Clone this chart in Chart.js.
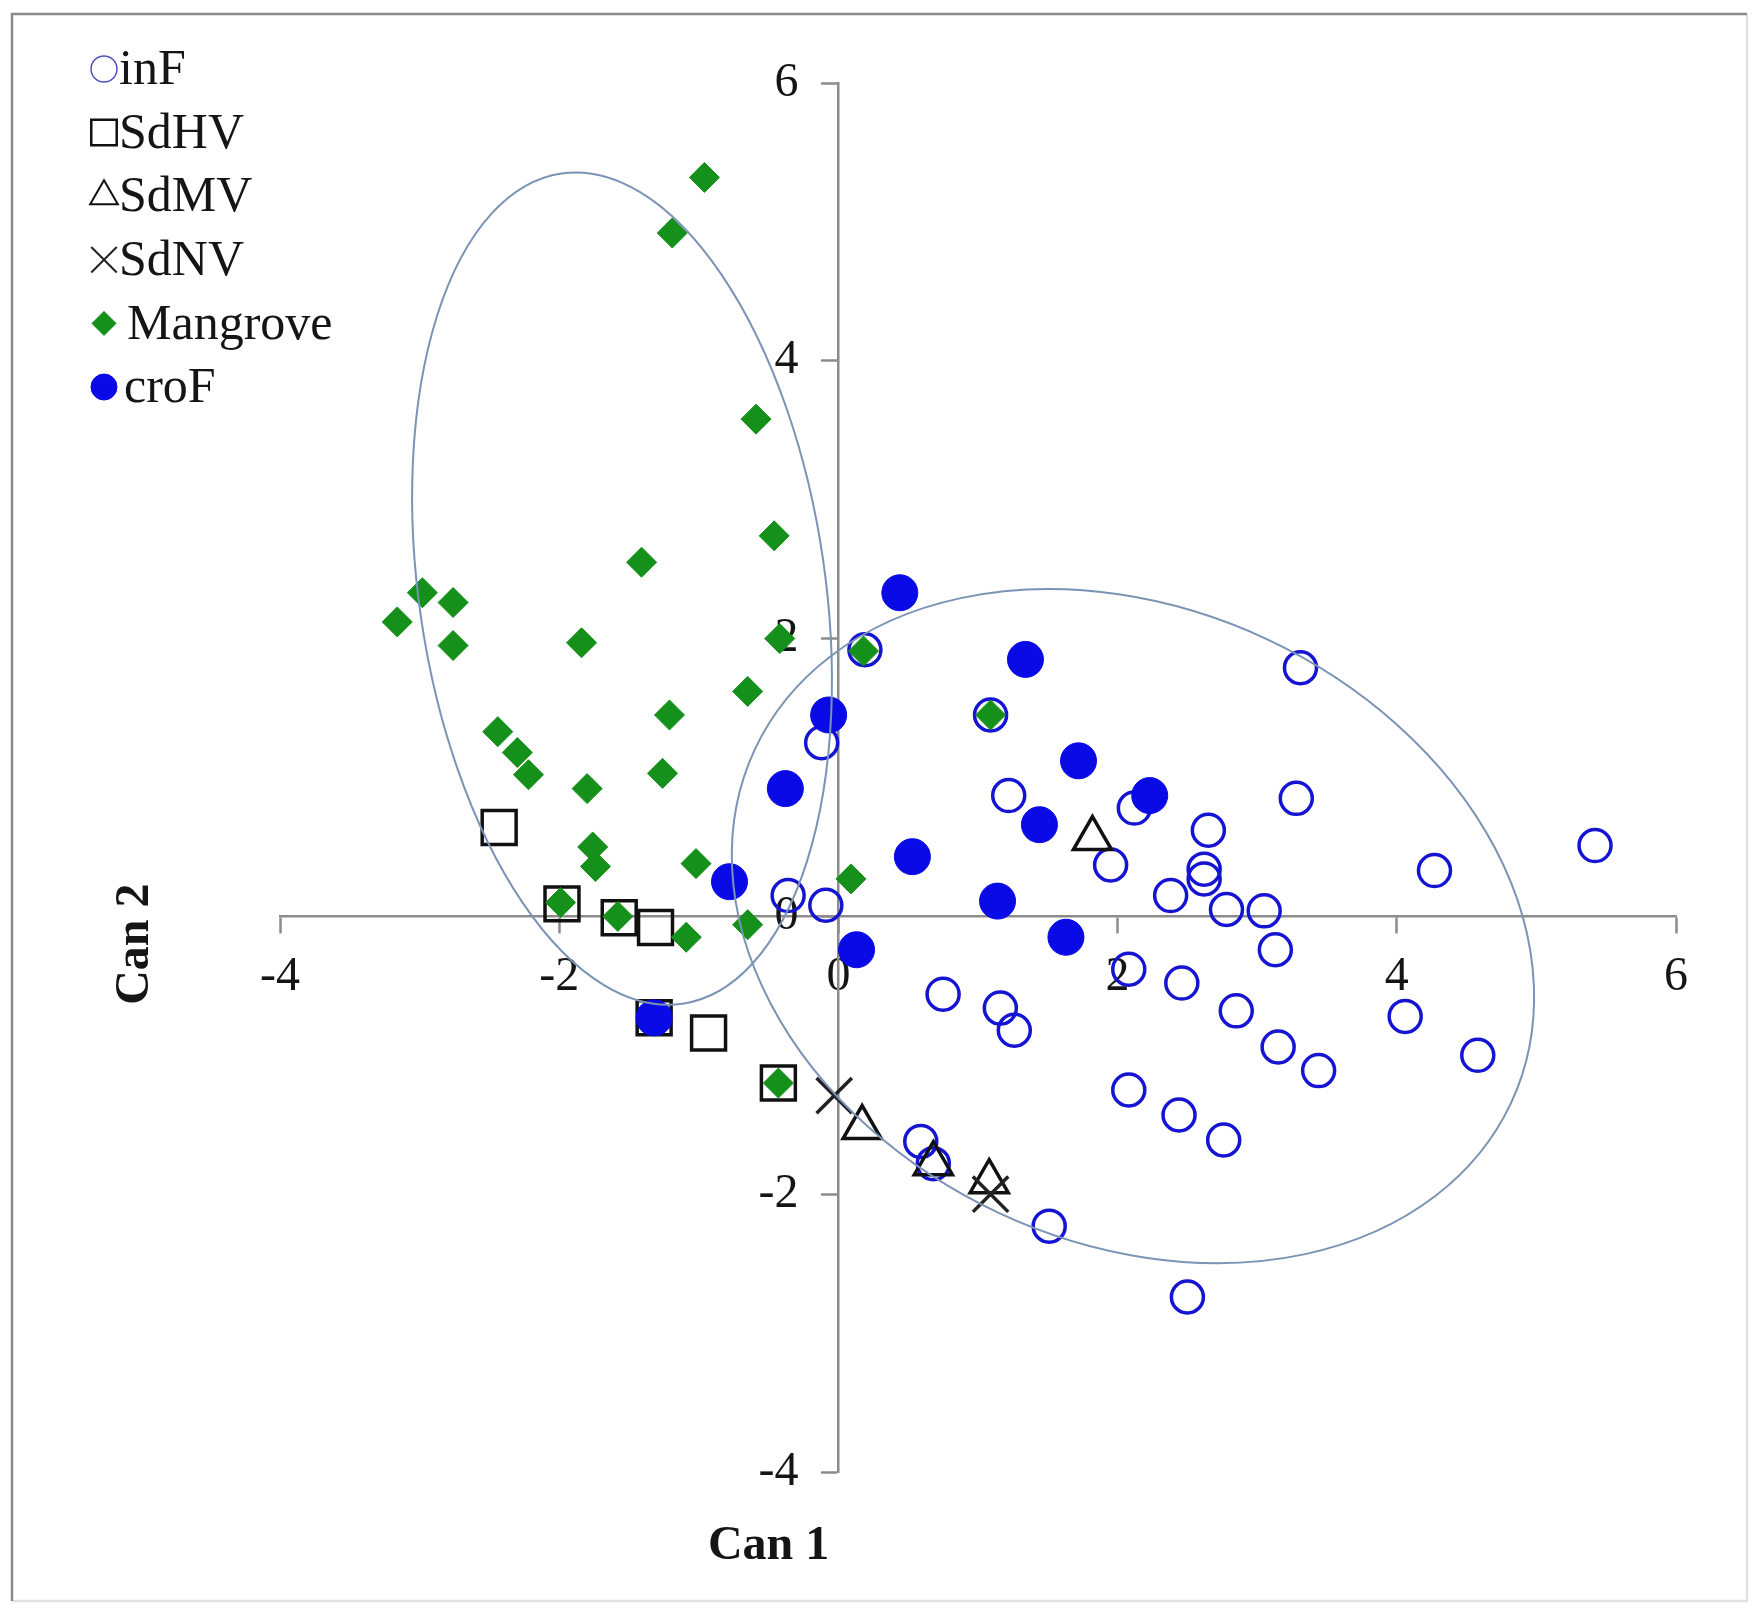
<!DOCTYPE html>
<html>
<head>
<meta charset="utf-8">
<script src="https://cdn.jsdelivr.net/npm/chart.js@4.4.1/dist/chart.umd.min.js"></script>
<style>
  html, body { margin: 0; padding: 0; background: #fff; }
  #wrap { position: relative; width: 1753px; height: 1604px; }
</style>
</head>
<body>
<div id="wrap"><canvas id="canChart" width="1753" height="1604"></canvas></div>
<script>
// Scores per groep (Can 1, Can 2)
const inF = [
  [3.31, 1.79], [0.19, 1.92], [1.09, 1.45], [-0.12, 1.25], [1.22, 0.87], [2.12, 0.78],
  [3.28, 0.85], [2.65, 0.62], [5.42, 0.51], [1.95, 0.37], [2.62, 0.34], [2.62, 0.27],
  [4.27, 0.33], [2.38, 0.15], [2.78, 0.05], [3.05, 0.04], [-0.36, 0.15], [-0.09, 0.08],
  [3.13, -0.24], [2.08, -0.38], [2.46, -0.48], [0.75, -0.56], [1.16, -0.66], [1.26, -0.82],
  [2.85, -0.68], [4.06, -0.72], [3.15, -0.94], [3.44, -1.11], [4.58, -1.0], [2.08, -1.25],
  [2.44, -1.43], [2.76, -1.61], [0.59, -1.62], [0.68, -1.78], [1.51, -2.23], [2.5, -2.74]
];
const SdHV = [[-2.43, 0.64], [-1.98, 0.09], [-1.57, -0.01], [-1.31, -0.08], [-1.32, -0.73], [-0.93, -0.84], [-0.43, -1.2]];
const SdMV = [[1.82, 0.56], [0.17, -1.52], [0.68, -1.78], [1.08, -1.91]];
const SdNV = [[-0.03, -1.29], [1.09, -2.0]];
const Mangrove = [
  [-0.96, 5.32], [-1.19, 4.92], [-0.59, 3.58], [-0.46, 2.74], [-1.41, 2.55], [-2.98, 2.33],
  [-2.76, 2.26], [-3.16, 2.12], [-2.76, 1.95], [-1.84, 1.97], [-0.42, 2.0], [0.18, 1.91],
  [-1.21, 1.45], [-0.65, 1.62], [-2.44, 1.33], [-2.3, 1.18], [-2.22, 1.02], [-1.26, 1.03],
  [-1.8, 0.92], [1.09, 1.45], [-1.76, 0.5], [-1.74, 0.36], [-1.02, 0.38], [0.09, 0.27],
  [-1.99, 0.1], [-1.58, 0.0], [-1.09, -0.15], [-0.65, -0.06], [-0.43, -1.2]
];
const croF = [
  [0.44, 2.33], [1.34, 1.85], [-0.07, 1.45], [1.72, 1.12], [2.23, 0.87], [-0.38, 0.92],
  [1.44, 0.66], [0.53, 0.43], [-0.78, 0.25], [1.14, 0.11], [1.63, -0.15], [0.13, -0.24], [-1.32, -0.73]
];

const tickValues = [-4, -2, 0, 2, 4, 6];

// Ellipsen: middelpunt x, middelpunt y, straal x, straal y, draaiing (graden)
const ellipses = [
  [-1.55, 2.36, 1.455, 3.02, -8.3],
  [2.11, -0.07, 2.99, 2.28, 25.1]
];

const serif = '"Liberation Serif", "Times New Roman", serif';
const axisGray = '#8c8c8c';
const toPts = arr => arr.map(p => ({ x: p[0], y: p[1] }));

const datasets = [
  { label: 'inF', data: toPts(inF), pointStyle: 'circle', pointRadius: 16, borderWidth: 3.5,
    borderColor: '#1414d2', backgroundColor: 'rgba(0,0,0,0)', order: 6, legendRadius: 13, legendBorder: 1.5, legendColor: '#5050c0' },
  { label: 'SdHV', data: toPts(SdHV), pointStyle: 'rect', pointRadius: 24, borderWidth: 3.5,
    borderColor: '#111', backgroundColor: 'rgba(0,0,0,0)', order: 5, legendRadius: 18, legendBorder: 2.5 },
  { label: 'SdMV', data: toPts(SdMV), pointStyle: 'triangle', pointRadius: 22, borderWidth: 3.5,
    borderColor: '#111', backgroundColor: 'rgba(0,0,0,0)', order: 4, legendRadius: 16, legendBorder: 2 },
  { label: 'SdNV', data: toPts(SdNV), pointStyle: 'crossRot', pointRadius: 25, borderWidth: 3.5,
    borderColor: '#222', backgroundColor: 'rgba(0,0,0,0)', order: 3, legendRadius: 18, legendBorder: 2 },
  { label: 'Mangrove', data: toPts(Mangrove), pointStyle: 'rectRot', pointRadius: 15, borderWidth: 1,
    borderColor: '#15901a', backgroundColor: '#15901a', order: 2, legendRadius: 12, legendBorder: 1 },
  { label: 'croF', data: toPts(croF), pointStyle: 'circle', pointRadius: 18, borderWidth: 1,
    borderColor: '#0a0ae6', backgroundColor: '#0a0ae6', order: 1, legendRadius: 13, legendBorder: 1 }
];

// Rand om de hele figuur en witte achtergrond
const framePlugin = {
  id: 'frame',
  beforeDraw(chart) {
    const ctx = chart.ctx;
    const r = chart.width - 6, b = chart.height - 3;
    ctx.save();
    ctx.fillStyle = '#fff';
    ctx.fillRect(0, 0, chart.width, chart.height);
    ctx.lineWidth = 2.5;
    ctx.strokeStyle = '#e2e2e2';
    ctx.beginPath();
    ctx.moveTo(r, 14); ctx.lineTo(r, b); ctx.lineTo(12, b);
    ctx.stroke();
    ctx.strokeStyle = '#8a8a8a';
    ctx.beginPath();
    ctx.moveTo(12, b); ctx.lineTo(12, 14); ctx.lineTo(r, 14);
    ctx.stroke();
    ctx.restore();
  }
};

// Ellipsen tekenen via de schalen
const ellipsePlugin = {
  id: 'ellipses',
  afterDatasetsDraw(chart) {
    const { ctx, scales: { x, y } } = chart;
    const ux = Math.abs(x.getPixelForValue(1) - x.getPixelForValue(0));
    const uy = Math.abs(y.getPixelForValue(1) - y.getPixelForValue(0));
    ctx.save();
    ctx.strokeStyle = '#7b93b5';
    ctx.lineWidth = 2;
    ellipses.forEach(e => {
      ctx.beginPath();
      ctx.ellipse(x.getPixelForValue(e[0]), y.getPixelForValue(e[1]), e[2] * ux, e[3] * uy, e[4] * Math.PI / 180, 0, 2 * Math.PI);
      ctx.stroke();
    });
    ctx.restore();
  }
};

// Legenda links boven en de astitels
const sidePlugin = {
  id: 'side',
  afterDraw(chart) {
    const ctx = chart.ctx;
    const area = chart.chartArea;
    ctx.save();
    chart.data.datasets.forEach((ds, i) => {
      const ly = 69 + i * 63.6;
      ctx.fillStyle = ds.backgroundColor;
      ctx.strokeStyle = ds.legendColor || ds.borderColor;
      ctx.lineWidth = ds.legendBorder;
      Chart.helpers.drawPoint(ctx, { pointStyle: ds.pointStyle, radius: ds.legendRadius, borderWidth: ds.legendBorder, rotation: 0 }, 104, ly);
      ctx.fillStyle = '#151515';
      ctx.font = '50px ' + serif;
      ctx.textBaseline = 'middle';
      ctx.textAlign = 'left';
      const tx = ds.pointStyle === 'rectRot' ? 127 : (ds.label === 'croF' ? 124 : 119);
      ctx.fillText(ds.label, tx, ly + 2);
    });

    ctx.font = 'bold 48px ' + serif;
    ctx.fillStyle = '#151515';
    ctx.textAlign = 'center';
    ctx.textBaseline = 'middle';
    ctx.fillText('Can 1', area.left + 0.35 * (area.right - area.left), area.bottom + 75);
    ctx.translate(136, area.top + 0.62 * (area.bottom - area.top));
    ctx.rotate(-Math.PI / 2);
    ctx.fillText('Can 2', 0, 0);
    ctx.restore();
  }
};

const axisOpts = (pos) => ({
  type: 'linear',
  position: pos,
  min: -4,
  max: 6,
  afterBuildTicks: s => { s.ticks = tickValues.map(v => ({ value: v })); },
  grid: { display: true, drawOnChartArea: false, drawTicks: true, tickLength: 16, tickColor: axisGray, tickWidth: 2.5 },
  border: { display: true, color: axisGray, width: 2.5 },
  ticks: { color: '#151515', font: { family: serif, size: 48 } }
});

const xAxis = axisOpts({ y: 0 });
xAxis.ticks.padding = 16;
const yAxis = axisOpts({ x: 0 });
// labels staan bij een kruisende as direct tegen de lijn; wat ruimte erachter
yAxis.ticks.callback = v => v + '\u2002\u2004';

const config = {
  type: 'scatter',
  data: { datasets: datasets },
  options: {
    responsive: false,
    animation: false,
    layout: { padding: { left: 280, right: 77, top: 83, bottom: 132 } },
    plugins: { legend: { display: false }, tooltip: { enabled: false } },
    scales: { x: xAxis, y: yAxis }
  },
  plugins: [framePlugin, ellipsePlugin, sidePlugin]
};

const canChart = new Chart(document.getElementById('canChart'), config);
</script>
</body>
</html>
